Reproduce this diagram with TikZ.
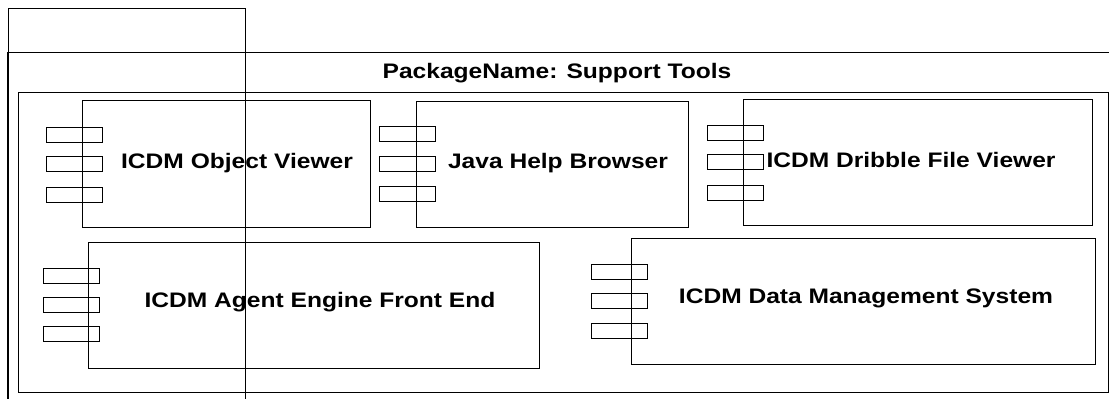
\documentclass[tikz,border=0pt]{standalone}
\usepackage{fontspec}
\setmainfont{Liberation Sans}
\begin{document}
\begin{tikzpicture}[x=1pt,y=-1pt,
  frame/.style={draw=black,line width=0.9pt},
  compbox/.style={draw=black,line width=0.9pt,inner sep=0pt,anchor=north west},
  port/.style={draw=black,line width=0.9pt,inner sep=0pt,anchor=north west,
    minimum width=56pt,minimum height=15pt},
  lbl/.style={inner sep=0pt,font=\fontsize{21}{24}\selectfont\bfseries}
]
\useasboundingbox (0,0) rectangle (1109,399);

% package frame and tab
\draw[frame] (8,52) -- (1112,52);
\draw[frame,line width=1.6pt] (8,52) -- (8,402);
\draw[frame] (8,52) -- (8,8) -- (245,8) -- (245,402);
\node[lbl] (title) at (557,73) {\scalebox{1.17}[1]{PackageName: Support Tools}};

% inner container
\node[compbox,minimum width=1090pt,minimum height=300pt] (inner) at (18,92) {};

% components
\node[compbox,minimum width=288pt,minimum height=127pt] (ov) at (82,100) {};
\node[compbox,minimum width=272pt,minimum height=126pt] (jh) at (416,101) {};
\node[compbox,minimum width=349pt,minimum height=126pt] (df) at (743,99) {};
\node[compbox,minimum width=451pt,minimum height=126pt] (ae) at (88,242) {};
\node[compbox,minimum width=464pt,minimum height=126pt] (dm) at (631,238) {};

% component ports
\foreach \px/\ya/\yb/\yc/\n in {46/127/156/187/ov, 379/126/156/186/jh, 707/125/154/185/df,
                                43/268/297/326/ae, 591/264/293/323/dm}{
  \node[port] (\n-p1) at (\px,\ya) {};
  \node[port] (\n-p2) at (\px,\yb) {};
  \node[port] (\n-p3) at (\px,\yc) {};
}

% component names
\node[lbl] (ov-t) at (237,163) {\scalebox{1.17}[1]{ICDM Object Viewer}};
\node[lbl] (jh-t) at (558,163) {\scalebox{1.17}[1]{Java Help Browser}};
\node[lbl] (df-t) at (911,160) {\scalebox{1.17}[1]{ICDM Dribble File Viewer}};
\node[lbl] (ae-t) at (320,302) {\scalebox{1.17}[1]{ICDM Agent Engine Front End}};
\node[lbl] (dm-t) at (866,298) {\scalebox{1.17}[1]{ICDM Data Management System}};
\end{tikzpicture}
\end{document}
